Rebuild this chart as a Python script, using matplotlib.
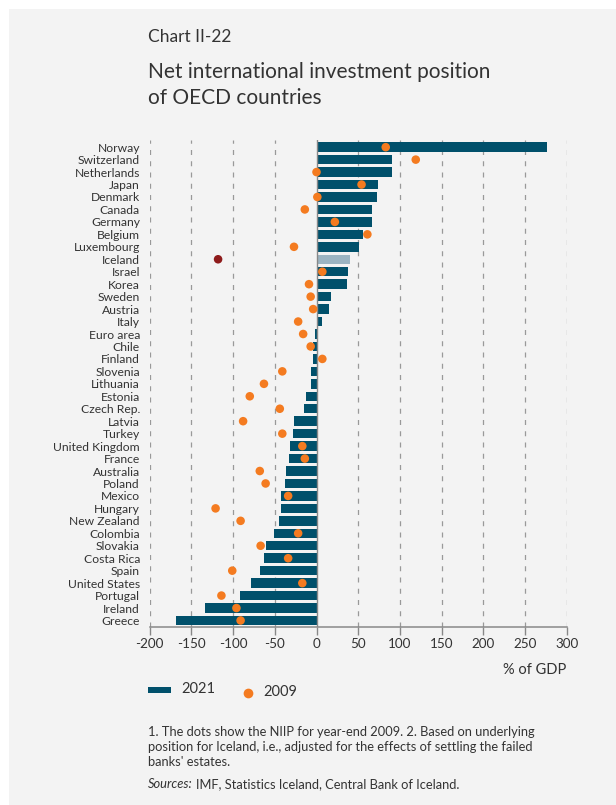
import numpy as np
import matplotlib
matplotlib.use("Agg")
import matplotlib.pyplot as plt
from matplotlib.patches import Rectangle

plt.rcParams['font.family'] = ['Lato', 'DejaVu Sans']
plt.rcParams['axes.unicode_minus'] = False

# countries listed top to bottom as in the chart
countries = ['Norway', 'Switzerland', 'Netherlands', 'Japan', 'Denmark', 'Canada',
             'Germany', 'Belgium', 'Luxembourg', 'Iceland', 'Israel', 'Korea',
             'Sweden', 'Austria', 'Italy', 'Euro area', 'Chile', 'Finland',
             'Slovenia', 'Lithuania', 'Estonia', 'Czech Rep.', 'Latvia', 'Turkey',
             'United Kingdom', 'France', 'Australia', 'Poland', 'Mexico', 'Hungary',
             'New Zealand', 'Colombia', 'Slovakia', 'Costa Rica', 'Spain',
             'United States', 'Portugal', 'Ireland', 'Greece']
niip_2021 = [276, 90, 90, 74, 73, 67, 66, 56, 51, 40, 38, 36,
             17, 15, 7, -2, -4, -4, -7, -7, -12, -15, -27, -28,
             -32, -33, -37, -38, -42, -42, -45, -51, -60, -63, -68,
             -79, -92, -134, -169]
niip_2009 = [83, 119, 0, 54, 1, -14, 22, 61, -27, -118, 7, -9,
             -7, -4, -22, -16, -7, 7, -41, -63, -80, -44, -88, -41,
             -17, -14, -68, -61, -34, -121, -91, -22, -67, -34, -101,
             -17, -114, -96, -91]
highlight = 'Iceland'

notes = ["1. The dots show the NIIP for year-end 2009. 2. Based on underlying",
         "position for Iceland, i.e., adjusted for the effects of settling the failed",
         "banks' estates."]

dark_blue = '#00506b'
light_blue = '#9bb4c2'
orange = '#f47b20'
dark_red = '#8e1b1b'
text_col = '#333333'

W, H = 616, 805
fig = plt.figure(figsize=(W / 100, H / 100), dpi=100)
fig.patch.set_facecolor('white')
fig.add_artist(Rectangle((9 / W, 0), 1, 1 - 9 / H, transform=fig.transFigure,
                         facecolor='#f3f3f3', edgecolor='none', zorder=-10))

ax = fig.add_axes([0.243, 0.2207, 0.677, 0.605])
ax.set_facecolor('none')

n = len(countries)
ypos = np.arange(n)[::-1]
bar_cols = [light_blue if c == highlight else dark_blue for c in countries]
dot_cols = [dark_red if c == highlight else orange for c in countries]

ax.barh(ypos, niip_2021, height=0.76, color=bar_cols, zorder=2)
ax.scatter(niip_2009, ypos, s=38, color=dot_cols, zorder=3, linewidths=0)

for xv in range(-200, 301, 50):
    if xv == 0:
        ax.axvline(0, color='#888888', lw=1, zorder=2.5)
    else:
        ax.axvline(xv, color='#999999', lw=0.9, dashes=(4, 5), zorder=1)

ax.set_xlim(-200, 300)
ax.set_ylim(-0.55, n - 0.45)
ax.set_xticks(range(-200, 301, 50))
ax.set_yticks(ypos)
ax.set_yticklabels(countries)
for s in ['top', 'right', 'left']:
    ax.spines[s].set_visible(False)
ax.spines['bottom'].set_color('#888888')
ax.spines['bottom'].set_linewidth(1.1)
ax.tick_params(axis='y', length=0, pad=7, labelsize=8.7, labelcolor=text_col)
ax.tick_params(axis='x', length=6, width=1, color='#888888', labelsize=9.7,
               labelcolor=text_col, pad=2)

fig.text(566 / W, 1 - 670 / H, '% of GDP', ha='right', va='center',
         fontsize=10.5, color=text_col)

# title
fig.text(148 / W, 1 - 37 / H, 'Chart II-22', ha='left', va='center',
         fontsize=12.5, color=text_col)
fig.text(148 / W, 1 - 72 / H, 'Net international investment position',
         ha='left', va='center', fontsize=15, color=text_col)
fig.text(148 / W, 1 - 97.5 / H, 'of OECD countries',
         ha='left', va='center', fontsize=15, color=text_col)

# legend
fig.add_artist(Rectangle((148 / W, 1 - 693 / H), 23 / W, 6 / H,
                         transform=fig.transFigure, facecolor=dark_blue, edgecolor='none'))
fig.text(181 / W, 1 - 689 / H, '2021', ha='left', va='center', fontsize=10.5, color=text_col)
fig.add_artist(plt.Line2D([248 / W], [1 - 693 / H], marker='o', markersize=7,
                          color=orange, markeredgewidth=0, transform=fig.transFigure))
fig.text(263 / W, 1 - 692 / H, '2009', ha='left', va='center', fontsize=10.5, color=text_col)

# notes
for i, line in enumerate(notes):
    fig.text(148 / W, 1 - (732 + 15 * i) / H, line, ha='left', va='center',
             fontsize=9.3, color=text_col)
t = fig.text(148 / W, 1 - 784 / H, 'Sources:', ha='left', va='center',
             fontsize=9.3, color=text_col, style='italic')
fig.canvas.draw()
bb = t.get_window_extent()
fig.text((bb.x1 + 3) / fig.bbox.width, 1 - 784 / H,
         'IMF, Statistics Iceland, Central Bank of Iceland.', ha='left', va='center',
         fontsize=9.3, color=text_col)

fig.savefig('out.png', dpi=100)
